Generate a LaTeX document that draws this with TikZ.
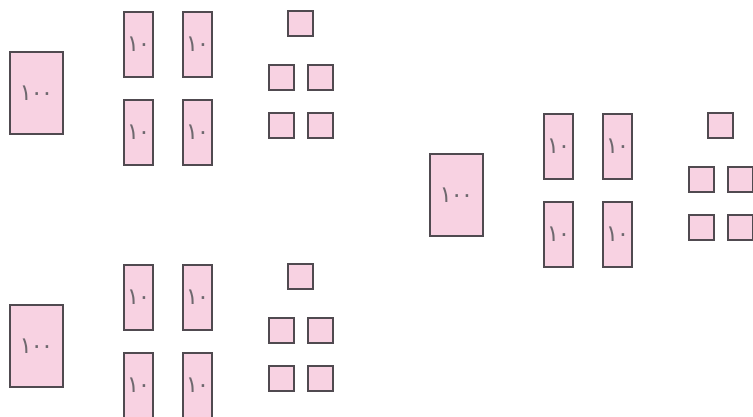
\documentclass[tikz,border=0pt]{standalone}
\usepackage{fontspec}
\newfontfamily\arabicfont[Script=Arabic]{DejaVu Sans}
\definecolor{tilefill}{RGB}{248,210,226}
\definecolor{tileline}{RGB}{80,74,80}
\definecolor{numcol}{RGB}{110,104,110}
\newcommand{\numhundred}{١\kern-1.5pt٠\kern-2pt٠}
\newcommand{\numten}{١\kern-1.5pt٠}
\tikzset{
  tile/.style={draw=tileline, fill=tilefill, line width=1.1pt, inner sep=0pt,
    text=numcol, font=\arabicfont\fontsize{23}{23}\selectfont},
  hundredtile/.style={tile, minimum width=53pt, minimum height=82pt},
  tentile/.style={tile, minimum width=29pt, minimum height=65pt},
  unittile/.style={tile, minimum width=25pt, minimum height=25pt},
}
\newcommand{\tilegroup}[3]{%
  \begin{scope}[shift={(#2,#3)}]
    \node[hundredtile] (#1h) at (36.5,93) {\numhundred};
    \node[tentile] (#1t1) at (138.5,44.5) {\numten};
    \node[tentile] (#1t2) at (197.5,44.5) {\numten};
    \node[tentile] (#1t3) at (138.5,132.5) {\numten};
    \node[tentile] (#1t4) at (197.5,132.5) {\numten};
    \node[unittile] (#1u1) at (300.5,23.5) {};
    \node[unittile] (#1u2) at (281.5,77.5) {};
    \node[unittile] (#1u3) at (320.5,77.5) {};
    \node[unittile] (#1u4) at (281.5,125.5) {};
    \node[unittile] (#1u5) at (320.5,125.5) {};
  \end{scope}}
\begin{document}
\begin{tikzpicture}[x=1pt,y=-1pt]
  \useasboundingbox (0,0) rectangle (753,416);
  \fill[white] (0,0) rectangle (753,416);
  \clip (0,0) rectangle (753,416);
  \tilegroup{a}{0}{0}
  \tilegroup{b}{0}{253}
  \tilegroup{c}{420}{102}
\end{tikzpicture}
\end{document}
